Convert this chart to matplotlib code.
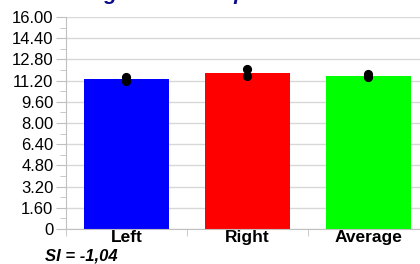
import matplotlib
matplotlib.use("Agg")
import matplotlib.pyplot as plt
from matplotlib.ticker import MultipleLocator, FixedLocator
import numpy as np

plt.rcParams['font.family'] = ['Liberation Sans', 'DejaVu Sans']

# data
categories = ["Left", "Right", "Average"]
bar_values = [11.30, 11.75, 11.55]
bar_colors = ["#0000ff", "#ff0000", "#00ff00"]
point_values = [[11.20, 11.50], [11.55, 12.05], [11.45, 11.70]]
y_ticks = [0, 1.6, 3.2, 4.8, 6.4, 8.0, 9.6, 11.2, 12.8, 14.4, 16.0]
y_tick_labels = ["0", "1.60", "3.20", "4.80", "6.40", "8.00", "9.60",
                 "11.20", "12.80", "14.40", "16.00"]
title = "Leg Power Jump"
si_text = "SI = -1,04"

fig = plt.figure(figsize=(4.2, 2.64), dpi=100)
ax = fig.add_axes([66/420, 1-229/264, 363/420, 212/264])

x = np.arange(len(categories))
ax.bar(x, bar_values, width=0.70, color=bar_colors, zorder=2)
for i, pts in enumerate(point_values):
    ax.plot([x[i]]*len(pts), pts, 'o', color='black', markersize=5.6,
            zorder=3)

ax.set_xlim(-0.5, 2.5)
ax.set_ylim(0, 16)
ax.yaxis.set_major_locator(FixedLocator(y_ticks))
ax.set_yticklabels(y_tick_labels)
ax.yaxis.set_minor_locator(MultipleLocator(0.8))
ax.grid(axis='y', color='#d8d8d8', linewidth=1.0, zorder=0)
ax.set_axisbelow(True)

ax.set_xticks(x)
ax.set_xticklabels(categories, fontweight='bold', fontsize=12.5)
ax.xaxis.set_minor_locator(FixedLocator([-0.5, 0.5, 1.5]))
ax.tick_params(axis='x', which='major', length=0, pad=1)
ax.tick_params(axis='x', which='minor', length=5, color='#c0c0c0')
ax.tick_params(axis='y', which='major', length=7, color='#c0c0c0',
               labelsize=12, pad=2)
ax.tick_params(axis='y', which='minor', length=4, color='#c0c0c0')

for s in ['top', 'right']:
    ax.spines[s].set_visible(False)
for s in ['left', 'bottom']:
    ax.spines[s].set_color('#c0c0c0')

# title sits mostly above the top edge, only descenders show
fig.text(80/420, 1 + 0.5/264, title, color='#0a0a8c', fontsize=15,
         fontweight='bold', fontstyle='italic', va='baseline', ha='left')
fig.text(45/420, 1-256/264, si_text, fontsize=12, fontweight='bold',
         fontstyle='italic', va='center', ha='left')

fig.savefig("out.png", dpi=100)
